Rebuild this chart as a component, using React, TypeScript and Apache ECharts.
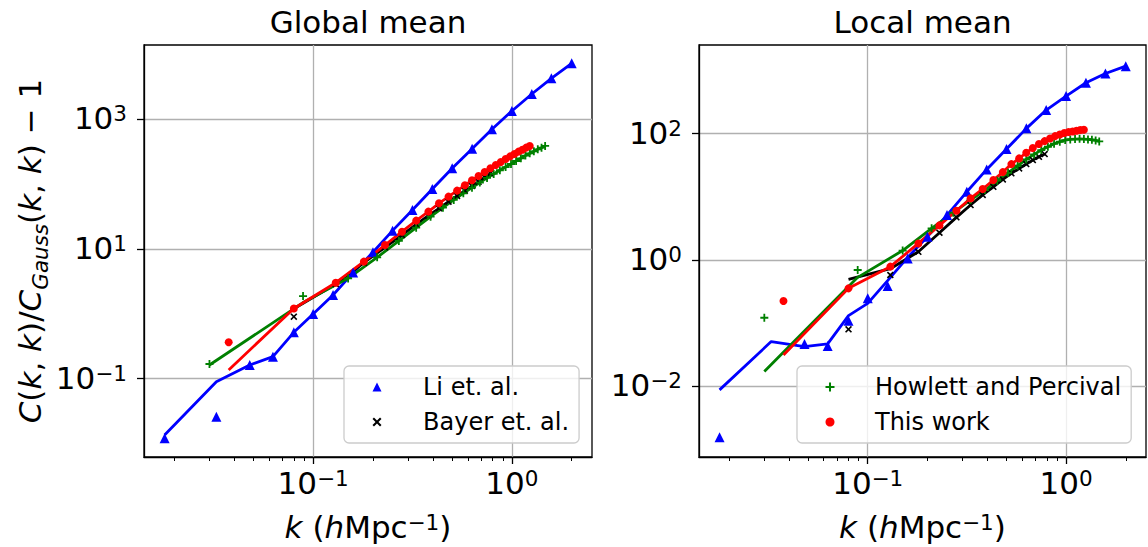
import React, { useEffect, useRef } from 'react';
import * as echarts from 'echarts';

const FONT = 'DejaVu Sans';
const MINUS = '\u2212';

// ---- data (k in h/Mpc, values of C/C_Gauss - 1) ----
const K_LI = [0.0179, 0.0326, 0.048, 0.0628, 0.08, 0.1, 0.126, 0.159, 0.2, 0.251, 0.316, 0.398, 0.501, 0.631, 0.794, 1.0, 1.26, 1.58, 2.0];
const LI_GLOBAL_PTS = [0.012, 0.0259, 0.162, 0.218, 0.518, 0.993, 1.95, 4.32, 8.89, 19.2, 40.0, 84.3, 176, 353, 703, 1349, 2466, 4305, 7328];
const LI_GLOBAL_LINE = [0.0135, 0.0897, 0.162, 0.218, 0.518, 0.993, 1.95, 4.32, 8.89, 19.2, 40.0, 84.3, 176, 353, 703, 1349, 2466, 4305, 7328];
const LI_LOCAL_PTS = [0.00157, null, 0.047, 0.0437, 0.109, 0.248, 0.388, 1.06, 2.34, 5.14, 12.0, 27.1, 56.9, 121, 236, 392, 637, 893, 1167];
const LI_LOCAL_LINE = [0.00881, 0.0512, 0.0427, 0.047, 0.132, 0.206, 0.471, 1.1, 2.34, 5.14, 12.0, 27.1, 56.9, 121, 236, 392, 637, 893, 1167];

const K_BAYER = [0.08, 0.13, 0.18, 0.23, 0.28, 0.33, 0.38, 0.43, 0.48, 0.53, 0.58, 0.63, 0.68, 0.73, 0.78];
const BAYER_GLOBAL_PTS = [0.904, 2.88, 6.15, 10.6, 16.4, 24.0, 32.7, 42.4, 53.7, 65.8, 79.4, 93.8, 109, 128, 147];
const BAYER_GLOBAL_LINE = [1.2, 2.88, 6.15, 10.6, 16.4, 24.0, 32.7, 42.4, 53.7, 65.8, 79.4, 93.8, 109, 128, 147];
const BAYER_LOCAL_PTS = [0.08, 0.579, 1.35, 2.7, 4.73, 7.41, 10.7, 14.4, 18.8, 23.5, 28.1, 33.0, 38.1, 43.0, 47.4];
const BAYER_LOCAL_LINE = [0.494, 0.729, 1.35, 2.7, 4.73, 7.41, 10.7, 14.4, 18.8, 23.5, 28.1, 33.0, 38.1, 43.0, 47.4];

const K_HOWLETT = [0.0301, 0.089, 0.15, 0.21, 0.27, 0.33, 0.39, 0.45, 0.51, 0.57, 0.63, 0.69, 0.75, 0.81, 0.87, 0.93, 0.99, 1.05, 1.11, 1.17, 1.23, 1.29, 1.35, 1.41, 1.47];
const HOWLETT_GLOBAL_PTS = [0.168, 1.88, 3.52, 7.43, 13.3, 21.3, 31.5, 43.4, 57.1, 72.3, 88.5, 106, 125, 144, 164, 184, 205, 228, 251, 276, 299, 321, 345, 366, 389];
const HOWLETT_GLOBAL_LINE = [0.162, 1.49, 3.52, 7.43, 13.3, 21.3, 31.5, 43.4, 57.1, 72.3, 88.5, 106, 125, 144, 164, 184, 205, 228, 251, 276, 299, 321, 345, 366, 389];
const HOWLETT_LOCAL_PTS = [0.122, 0.695, 1.41, 3.17, 5.6, 8.88, 12.8, 18.0, 24.0, 31.0, 39.0, 46.9, 54.9, 61.9, 69.1, 74.3, 78.9, 80.9, 81.9, 82.8, 81.9, 80.9, 79.9, 78.0, 75.2];
const HOWLETT_LOCAL_LINE = [0.0172, 0.532, 1.41, 3.17, 5.6, 8.88, 12.8, 18.0, 24.0, 31.0, 39.0, 46.9, 54.9, 61.9, 69.1, 74.3, 78.9, 80.9, 81.9, 82.8, 81.9, 80.9, 79.9, 78.0, 75.2];

const K_THIS = [0.0376, 0.08, 0.13, 0.18, 0.23, 0.28, 0.33, 0.38, 0.43, 0.48, 0.53, 0.58, 0.63, 0.68, 0.73, 0.78, 0.83, 0.88, 0.93, 0.98, 1.03, 1.08, 1.13, 1.18, 1.23];
const THIS_GLOBAL_PTS = [0.363, 1.21, 3.02, 6.38, 11.5, 18.5, 27.4, 37.7, 50.7, 64.3, 79.5, 96.1, 115, 134, 154, 176, 198, 220, 245, 269, 293, 318, 341, 367, 389];
const THIS_GLOBAL_LINE = [0.136, 1.21, 3.02, 6.38, 11.5, 18.5, 27.4, 37.7, 50.7, 64.3, 79.5, 96.1, 115, 134, 154, 176, 198, 220, 245, 269, 293, 318, 341, 367, 389];
const THIS_LOCAL_PTS = [0.225, 0.356, 0.785, 1.83, 3.53, 6.03, 9.44, 13.3, 18.4, 24.6, 32.9, 40.5, 49.8, 59.0, 68.3, 76.1, 83.9, 91.3, 97.0, 102, 106, 108, 111, 114, 115];
const THIS_LOCAL_LINE = [0.0315, 0.356, 0.785, 1.83, 3.53, 6.03, 9.44, 13.3, 18.4, 24.6, 32.9, 40.5, 49.8, 59.0, 68.3, 76.1, 83.9, 91.3, 97.0, 102, 106, 108, 111, 114, 115];

// ---- axes ticks ----
const X_RANGE = [0.0141, 2.53];
const Y_RANGE_GLOBAL = [0.00617, 14060];
const Y_RANGE_LOCAL = [0.000764, 2523];
const X_MAJOR = [0.1, 1];
const X_MINOR = [0.02, 0.03, 0.04, 0.05, 0.06, 0.07, 0.08, 0.09, 0.2, 0.3, 0.4, 0.5, 0.6, 0.7, 0.8, 0.9, 2];
const Y_MAJOR_GLOBAL = [0.1, 10, 1000];
const Y_MAJOR_LOCAL = [0.01, 1, 100];

const TITLES = ['Global mean', 'Local mean'];
const LEGEND_LEFT = ['Li et. al.', 'Bayer et. al.'];
const LEGEND_RIGHT = ['Howlett and Percival', 'This work'];

const BLUE = '#0000ff';
const BLACK = '#000000';
const GREEN = '#008000';
const RED = '#ff0000';

const PLUS = 'path://M3.1,0H4.9V3.1H8V4.9H4.9V8H3.1V4.9H0V3.1H3.1Z';
const CROSS = 'path://M0,1.3L1.3,0L4,2.7L6.7,0L8,1.3L5.3,4L8,6.7L6.7,8L4,5.3L1.3,8L0,6.7L2.7,4Z';

const FS = 31;
const FS_SUP = 21.5;

function pairs(k: number[], v: (number | null)[]) {
  const out: number[][] = [];
  k.forEach((x, i) => {
    const y = v[i];
    if (y != null) out.push([x, y]);
  });
  return out;
}

const tickRich = {
  b: { fontFamily: FONT, fontSize: FS, color: '#000', lineHeight: 33, verticalAlign: 'top' },
  s: { fontFamily: FONT, fontSize: FS_SUP, color: '#000', lineHeight: 16, verticalAlign: 'top' },
};

function expLabel(v: number) {
  const e = Math.round(Math.log10(v));
  return `{b|10}{s|${e < 0 ? MINUS + -e : e}}`;
}

const nameRich = {
  i: { fontFamily: FONT, fontStyle: 'italic', fontSize: FS, color: '#000', lineHeight: 33, verticalAlign: 'top' },
  n: { fontFamily: FONT, fontSize: FS, color: '#000', lineHeight: 33, verticalAlign: 'top' },
  s: { fontFamily: FONT, fontSize: FS_SUP, color: '#000', lineHeight: 16, verticalAlign: 'top' },
  sub: { fontFamily: FONT, fontStyle: 'italic', fontSize: FS_SUP, color: '#000', lineHeight: 21, verticalAlign: 'top', padding: [15, 0, 0, 0] },
};

const GRIDS = [
  { left: 144, top: 45, width: 448, height: 412 },
  { left: 699, top: 45, width: 447, height: 412 },
];

function majorX(gridIndex: number) {
  return {
    type: 'log',
    gridIndex,
    min: X_RANGE[0],
    max: X_RANGE[1],
    position: 'bottom',
    name: '{i|k}{n| (}{i|h}{n|Mpc}{s|' + MINUS + '1}{n|)}',
    nameLocation: 'middle',
    nameGap: 54,
    nameTextStyle: { fontFamily: FONT, fontSize: FS, color: '#000', rich: nameRich },
    axisLine: { show: true, lineStyle: { color: '#000', width: 1.3 } },
    axisTick: { show: true, length: 7, lineStyle: { color: '#000', width: 1.3 }, customValues: X_MAJOR },
    axisLabel: { customValues: X_MAJOR, formatter: expLabel, rich: tickRich, margin: 10, color: '#000' },
    splitLine: { show: true, lineStyle: { color: '#b0b0b0', width: 1.3 } },
    minorTick: { show: false },
  };
}

function minorX(gridIndex: number) {
  return {
    type: 'log',
    gridIndex,
    min: X_RANGE[0],
    max: X_RANGE[1],
    position: 'bottom',
    axisLine: { show: false },
    axisTick: { show: true, length: 4, lineStyle: { color: '#000', width: 1 }, customValues: X_MINOR },
    axisLabel: { show: false },
    splitLine: { show: false },
  };
}

function yAxis(gridIndex: number, range: number[], major: number[], withName: boolean) {
  const ax: any = {
    type: 'log',
    gridIndex,
    min: range[0],
    max: range[1],
    axisLine: { show: true, lineStyle: { color: '#000', width: 1.3 } },
    axisTick: { show: true, length: 7, lineStyle: { color: '#000', width: 1.3 }, customValues: major },
    axisLabel: { customValues: major, formatter: expLabel, rich: tickRich, margin: 17, color: '#000' },
    splitLine: { show: true, lineStyle: { color: '#b0b0b0', width: 1.3 } },
  };
  if (withName) {
    ax.name =
      '{i|C}{n|(}{i|k}{n|, }{i|k}{n|)/}{i|C}{sub|Gauss}{n|(}{i|k}{n|, }{i|k}{n|) ' + MINUS + ' 1}';
    ax.nameLocation = 'middle';
    ax.nameRotate = 90;
    ax.nameGap = 96;
    ax.nameTextStyle = { fontFamily: FONT, fontSize: FS, color: '#000', rich: nameRich };
  }
  return ax;
}

function panelSeries(
  xAxisIndex: number,
  yAxisIndex: number,
  li: [(number | null)[], number[]],
  bayer: [number[], number[]],
  howlett: [number[], number[]],
  thisw: [number[], number[]]
) {
  const line = (name: string, color: string, k: number[], v: (number | null)[]) => ({
    type: 'line',
    name,
    xAxisIndex,
    yAxisIndex,
    data: pairs(k, v),
    showSymbol: false,
    symbol: 'none',
    lineStyle: { color, width: 2.8 },
    itemStyle: { color },
    z: 3,
  });
  const pts = (name: string, color: string, k: number[], v: (number | null)[], symbol: string, size: number) => ({
    type: 'scatter',
    name,
    xAxisIndex,
    yAxisIndex,
    data: pairs(k, v),
    symbol,
    symbolSize: size,
    itemStyle: { color, opacity: 1 },
    z: 4,
  });
  return [
    line('Li line', BLUE, K_LI, li[1]),
    pts('Li et. al.', BLUE, K_LI, li[0], 'triangle', 10),
    line('Bayer line', BLACK, K_BAYER, bayer[1]),
    pts('Bayer et. al.', BLACK, K_BAYER, bayer[0], CROSS, 7),
    line('Howlett line', GREEN, K_HOWLETT, howlett[1]),
    pts('Howlett and Percival', GREEN, K_HOWLETT, howlett[0], PLUS, 8),
    line('This work line', RED, K_THIS, thisw[1]),
    pts('This work', RED, K_THIS, thisw[0], 'circle', 8),
  ];
}

function legendBox(data: string[], left: number, textPad: number) {
  return {
    data,
    orient: 'vertical',
    left,
    top: 366,
    padding: [7, 10, 7, 28.5],
    itemWidth: 9,
    itemHeight: 9,
    itemGap: 7,
    selectedMode: false,
    textStyle: { fontFamily: FONT, fontSize: 24, color: '#000', lineHeight: 28, padding: [0, 0, 0, textPad] },
    backgroundColor: 'rgba(255,255,255,0.8)',
    borderColor: '#cccccc',
    borderWidth: 1.3,
    borderRadius: 5,
  };
}

export default function App() {
  const ref = useRef<HTMLDivElement>(null);
  useEffect(() => {
    if (!ref.current) return;
    const chart = echarts.init(ref.current, undefined, { renderer: 'svg' });
    const option: any = {
      animation: false,
      backgroundColor: '#ffffff',
      textStyle: { fontFamily: FONT },
      grid: GRIDS.map((g) => ({ ...g, show: true, borderColor: '#000', borderWidth: 1.3, containLabel: false })),
      xAxis: [majorX(0), minorX(0), majorX(1), minorX(1)],
      yAxis: [yAxis(0, Y_RANGE_GLOBAL, Y_MAJOR_GLOBAL, true), yAxis(1, Y_RANGE_LOCAL, Y_MAJOR_LOCAL, false)],
      legend: [legendBox(LEGEND_LEFT, 344, 36.5), legendBox(LEGEND_RIGHT, 797, 35.5)],
      graphic: TITLES.map((t, i) => ({
        type: 'text',
        x: GRIDS[i].left + GRIDS[i].width / 2,
        y: 21.5,
        style: {
          text: t,
          fontFamily: FONT,
          fontSize: FS,
          fill: '#000',
          align: 'center',
          verticalAlign: 'middle',
          textAlign: 'center',
          textVerticalAlign: 'middle',
        },
      })),
      series: [
        ...panelSeries(0, 0, [LI_GLOBAL_PTS, LI_GLOBAL_LINE], [BAYER_GLOBAL_PTS, BAYER_GLOBAL_LINE], [HOWLETT_GLOBAL_PTS, HOWLETT_GLOBAL_LINE], [THIS_GLOBAL_PTS, THIS_GLOBAL_LINE]),
        ...panelSeries(2, 1, [LI_LOCAL_PTS, LI_LOCAL_LINE as number[]], [BAYER_LOCAL_PTS, BAYER_LOCAL_LINE], [HOWLETT_LOCAL_PTS, HOWLETT_LOCAL_LINE], [THIS_LOCAL_PTS, THIS_LOCAL_LINE]),
      ],
    };
    chart.setOption(option);
    return () => chart.dispose();
  }, []);
  return <div ref={ref} style={{ position: 'absolute', left: 0, top: 0, width: 1148, height: 547 }} />;
}
